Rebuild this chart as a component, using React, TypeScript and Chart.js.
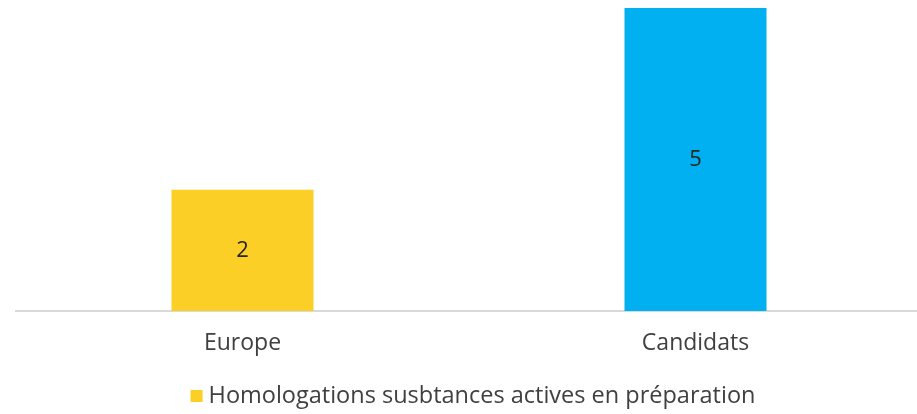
import React, { useEffect, useRef } from "react";
import { Chart, registerables } from "chart.js";

Chart.register(...registerables);

const categories = ["Europe", "Candidats"];
const values = [2, 5];
const barColors = ["#FCCF26", "#00B0F0"];
const seriesName = "Homologations susbtances actives en préparation";
const textColor = "#404040";
const fontFamily = "'Open Sans', Lato, sans-serif";

const valueLabels = {
  id: "valueLabels",
  afterDatasetsDraw(chart: any) {
    const ctx = chart.ctx;
    const meta = chart.getDatasetMeta(0);
    ctx.save();
    ctx.fillStyle = "#262626";
    ctx.font = `22px ${fontFamily}`;
    ctx.textAlign = "center";
    ctx.textBaseline = "middle";
    meta.data.forEach((bar: any, i: number) => {
      const y = (bar.y + bar.base) / 2;
      ctx.fillText(String(chart.data.datasets[0].data[i]), bar.x, y);
    });
    ctx.restore();
  },
};

const customLegend = {
  id: "customLegend",
  afterDraw(chart: any) {
    const ctx = chart.ctx;
    const area = chart.chartArea;
    ctx.save();
    ctx.font = `23.5px ${fontFamily}`;
    const tw = ctx.measureText(seriesName).width;
    const box = 12;
    const gap = 6;
    const total = box + gap + tw;
    const cx = (area.left + area.right) / 2 + 4;
    const x0 = cx - total / 2;
    const cy = 396;
    ctx.fillStyle = barColors[0];
    ctx.fillRect(x0, cy - box / 2, box, box);
    ctx.fillStyle = textColor;
    ctx.textAlign = "left";
    ctx.textBaseline = "middle";
    ctx.fillText(seriesName, x0 + box + gap, cy);
    ctx.restore();
  },
};

export default function App() {
  const ref = useRef<HTMLCanvasElement>(null);
  useEffect(() => {
    document.body.style.overflow = "hidden";
    if (!ref.current) return;
    const chart = new Chart(ref.current, {
      type: "bar",
      data: {
        labels: categories,
        datasets: [
          {
            label: seriesName,
            data: values,
            backgroundColor: barColors,
            categoryPercentage: 1,
            barPercentage: 0.3135,
          },
        ],
      },
      options: {
        animation: false,
        responsive: true,
        maintainAspectRatio: false,
        layout: { padding: { left: 16, right: 0, top: 8, bottom: 39 } },
        scales: {
          y: { display: false, min: 0, max: 5 },
          x: {
            grid: { display: false },
            border: { display: true, color: "#D9D9D9", width: 2 },
            ticks: {
              color: textColor,
              font: { family: fontFamily, size: 23 },
              padding: 11,
            },
            afterFit: (scale: any) => {
              scale.height = 64;
            },
          },
        },
        plugins: {
          tooltip: { enabled: false },
          legend: { display: false },
        },
      },
      plugins: [valueLabels, customLegend],
    });
    return () => chart.destroy();
  }, []);
  return (
    <div style={{ position: "absolute", left: 0, top: 0, width: 922, height: 414 }}>
      <canvas ref={ref} />
    </div>
  );
}
